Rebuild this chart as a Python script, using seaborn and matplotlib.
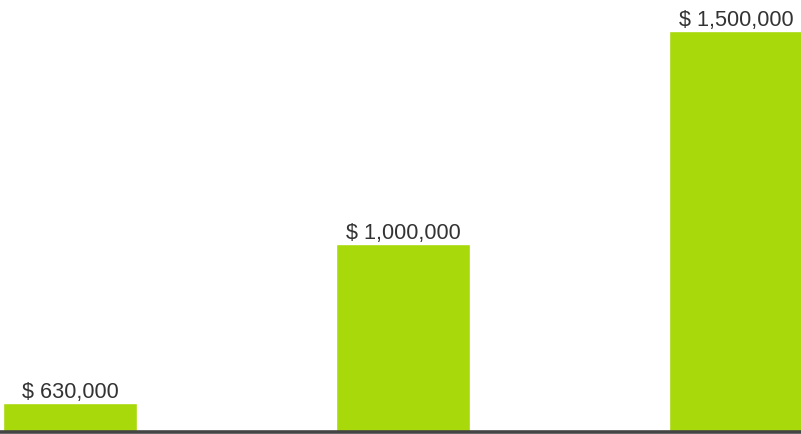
import matplotlib
matplotlib.use("Agg")
import matplotlib.pyplot as plt
import numpy as np
import pandas as pd
import seaborn as sns

categories = ["A", "B", "C"]
values = [630000, 1000000, 1500000]
labels = ["$ 630,000", "$ 1,000,000", "$ 1,500,000"]

BAR_COLOR = "#A8D90A"
TEXT_COLOR = "#333333"
AXIS_COLOR = "#444444"

sns.set_style("white")
plt.rcParams["font.family"] = ["Liberation Sans", "DejaVu Sans"]

df = pd.DataFrame({"category": categories, "value": values})

fig = plt.figure(figsize=(8.01, 4.34), dpi=100)
ax = fig.add_axes([0, 2 / 434, 1, 1 - 2 / 434])

sns.barplot(data=df, x="category", y="value", color=BAR_COLOR, width=0.4,
            saturation=1, ax=ax)

ax.set_xlim(-0.21, 2.195)
ax.set_ylim(561000, 1572000)

for i, (v, lab) in enumerate(zip(values, labels)):
    ax.annotate(lab, (i, v), xytext=(0, 3.6), textcoords="offset points",
                ha="center", va="baseline", fontsize=15.6, color=TEXT_COLOR)

for side in ["top", "left", "right"]:
    ax.spines[side].set_visible(False)
ax.spines["bottom"].set_color(AXIS_COLOR)
ax.spines["bottom"].set_linewidth(2.6)
ax.spines["bottom"].set_zorder(5)
ax.set_xticks([])
ax.set_yticks([])
ax.set_xlabel("")
ax.set_ylabel("")

fig.savefig("out.png", dpi=100)
